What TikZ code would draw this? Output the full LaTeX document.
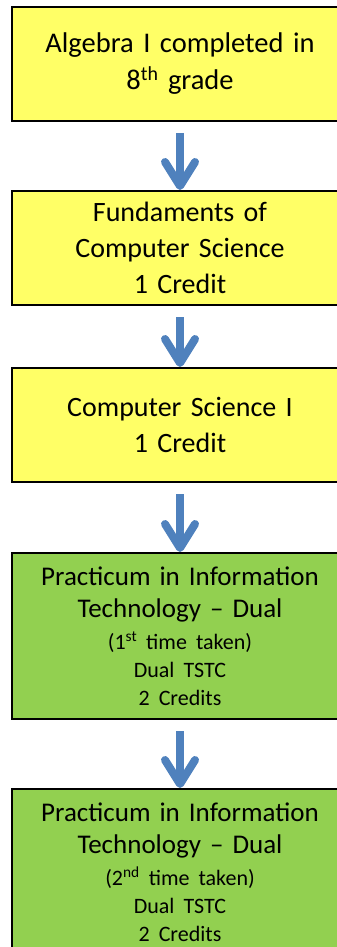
\documentclass[tikz,border=0pt]{standalone}
\usepackage{fontspec}
\setmainfont{Carlito}
\usetikzlibrary{arrows.meta,positioning}
\definecolor{boxyellow}{HTML}{FFFF66}
\definecolor{boxgreen}{HTML}{92D050}
\definecolor{flowblue}{HTML}{4F81BD}

\begin{document}
\begin{tikzpicture}[
   x=1pt, y=1pt,
   course/.style={draw, line width=2pt, text width=324pt, inner xsep=6pt,
                  inner ysep=0pt, align=center, minimum height=114pt,
                  font=\fontsize{28}{36}\selectfont},
   core/.style={course, fill=boxyellow},
   dual/.style={course, fill=boxgreen, minimum height=166pt,
                font=\fontsize{27}{32}\selectfont},
   flow/.style={draw=flowblue, line width=8pt, shorten <=11pt,
                -{Straight Barb[length=24pt, width=30pt, round]}}]
  \useasboundingbox (0,0) rectangle (337,-947);
  \clip (0,0) rectangle (337,-947);
  \node[core, anchor=north west, font=\fontsize{28.5}{37}\selectfont] (alg) at (11,-6)
    {Algebra I completed in\\8\textsuperscript{th} grade};
  \node[core, below=68pt of alg] (fcs) {Fundaments of\\Computer Science\\1 Credit};
  \node[core, below=61pt of fcs] (cs1) {Computer Science I\\1 Credit};
  \node[dual, below=69pt of cs1] (pit1)
    {Practicum in Information\\Technology -- Dual\par
     {\fontsize{22}{28}\selectfont\vspace*{4pt}(1\textsuperscript{st} time taken)\\Dual TSTC\\2 Credits\par}};
  \node[dual, below=68pt of pit1] (pit2)
    {Practicum in Information\\Technology -- Dual\par
     {\fontsize{22}{28}\selectfont\vspace*{4pt}(2\textsuperscript{nd} time taken)\\Dual TSTC\\2 Credits\par}};
  \foreach \a/\b in {alg/fcs, fcs/cs1, cs1/pit1, pit1/pit2}
    \draw[flow] (\a) -- (\b);
\end{tikzpicture}
\end{document}
